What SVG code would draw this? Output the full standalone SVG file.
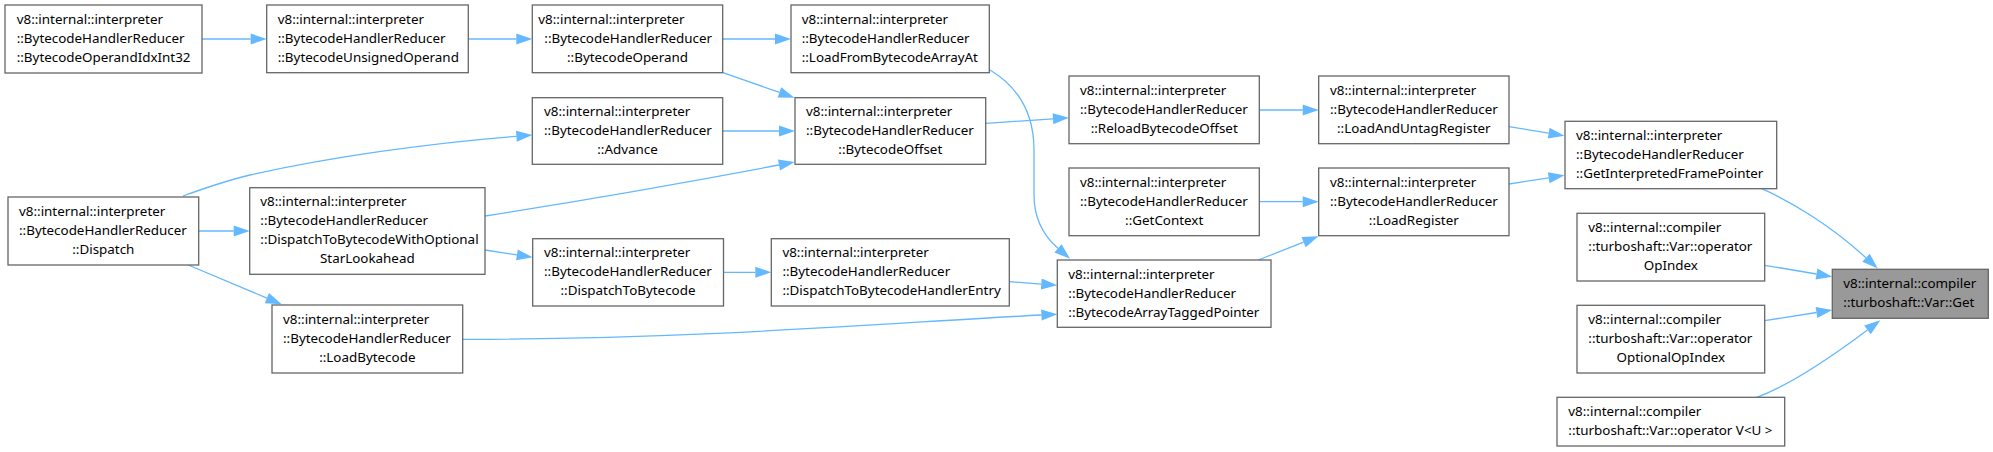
<svg xmlns="http://www.w3.org/2000/svg" width="1993" height="452" viewBox="0 0 1993 452">
<defs>
<style>
.n rect{fill:#fff;stroke:#666;stroke-width:1.3}
.n.hl rect{fill:#999}
.n text{font-family:"Noto Sans","Open Sans","DejaVu Sans",sans-serif;font-size:13.4px;fill:#000}
.m{text-anchor:middle}
.e path{fill:none;stroke:#63b8ff;stroke-width:1.3;marker-end:url(#ah)}
</style>
<marker id="ah" markerUnits="userSpaceOnUse" markerWidth="16" markerHeight="11" refX="0" refY="5.5" orient="auto" viewBox="0 0 16 11" overflow="visible">
<path d="M0,0 L16,5.5 L0,11 z" fill="#63b8ff"/>
</marker>
</defs>
<rect width="1993" height="452" fill="#fff"/>
<g id="edges" class="e">
<path d="M202,39 L250.7,39"/>
<path d="M468.3,39 L516.3,39"/>
<path d="M722.7,39 L775,39"/>
<path d="M723,72.7 L779.4,92.4"/>
<path d="M722.7,131 L779,131"/>
<path d="M183,196 C205,188 225,181 250,175 C330,157 430,143 516.4,136.3"/>
<path d="M485,216 C600,198 700,180 779,165"/>
<path d="M198.7,231 L233.7,231"/>
<path d="M188.3,265 L266.9,298.1"/>
<path d="M485,250 L516.9,254.9"/>
<path d="M723.5,272.3 L755.3,272.3"/>
<path d="M1009.3,281.7 L1041.3,284.1"/>
<path d="M462.7,339.3 C700,339.5 900,322 1041.4,315"/>
<path d="M990,70 C1020,88 1034,115 1034,150 L1034,195 C1034,220 1045,237 1058,248.3"/>
<path d="M986,123.3 L1053,118.8"/>
<path d="M1259.3,110 L1302.7,110"/>
<path d="M1259.3,201.7 L1302.7,201.7"/>
<path d="M1258.3,260 L1303.6,242.2"/>
<path d="M1509,126.7 L1548.7,133.1"/>
<path d="M1509,184 L1548.7,177.8"/>
<path d="M1761.7,188.7 C1790,201 1830,225 1866,257.8"/>
<path d="M1764.7,265.3 L1816.5,274"/>
<path d="M1764.7,320.7 L1816.5,312.5"/>
<path d="M1756.7,397.3 C1790,385 1830,358 1867.5,329.9"/>
</g>
<g id="n1" class="n"><rect x="5" y="5" width="197" height="68"/>
<text x="16.7" y="23.5">v8::internal::interpreter</text><text x="16.7" y="42.5">::BytecodeHandlerReducer</text><text x="16.7" y="61.5">::BytecodeOperandIdxInt32</text></g>
<g id="n2" class="n"><rect x="266.7" y="5" width="201.6" height="67.7"/>
<text x="277.7" y="23.5">v8::internal::interpreter</text><text x="277.7" y="42.5">::BytecodeHandlerReducer</text><text x="277.7" y="61.5">::BytecodeUnsignedOperand</text></g>
<g id="n3" class="n"><rect x="532.3" y="5" width="190.4" height="67.7"/>
<text x="538.3" y="23.5">v8::internal::interpreter</text><text x="544.3" y="42.5">::BytecodeHandlerReducer</text><text class="m" x="627.5" y="61.5">::BytecodeOperand</text></g>
<g id="n4" class="n"><rect x="791" y="5" width="198.3" height="67.7"/>
<text x="801.7" y="23.5">v8::internal::interpreter</text><text x="801.7" y="42.5">::BytecodeHandlerReducer</text><text x="801.7" y="61.5">::LoadFromBytecodeArrayAt</text></g>
<g id="n5" class="n"><rect x="532.3" y="97.7" width="190.4" height="66.6"/>
<text x="544" y="116.2">v8::internal::interpreter</text><text x="544" y="135.2">::BytecodeHandlerReducer</text><text class="m" x="627.5" y="154.2">::Advance</text></g>
<g id="n6" class="n"><rect x="795" y="97.7" width="190.7" height="66.6"/>
<text x="806" y="116.2">v8::internal::interpreter</text><text x="806" y="135.2">::BytecodeHandlerReducer</text><text class="m" x="890.3" y="154.2">::BytecodeOffset</text></g>
<g id="n7" class="n"><rect x="1069" y="76" width="190.3" height="67.7"/>
<text x="1080" y="94.5">v8::internal::interpreter</text><text x="1080" y="113.5">::BytecodeHandlerReducer</text><text class="m" x="1164.2" y="132.5">::ReloadBytecodeOffset</text></g>
<g id="n8" class="n"><rect x="1318.7" y="76" width="190.3" height="67.7"/>
<text x="1330" y="94.5">v8::internal::interpreter</text><text x="1330" y="113.5">::BytecodeHandlerReducer</text><text class="m" x="1413.8" y="132.5">::LoadAndUntagRegister</text></g>
<g id="n9" class="n"><rect x="1069" y="168" width="190.3" height="67.7"/>
<text x="1080" y="186.5">v8::internal::interpreter</text><text x="1080" y="205.5">::BytecodeHandlerReducer</text><text class="m" x="1164.2" y="224.5">::GetContext</text></g>
<g id="n10" class="n"><rect x="1318.7" y="168" width="190.3" height="67.7"/>
<text x="1330" y="186.5">v8::internal::interpreter</text><text x="1330" y="205.5">::BytecodeHandlerReducer</text><text class="m" x="1413.8" y="224.5">::LoadRegister</text></g>
<g id="n11" class="n"><rect x="1565" y="121.3" width="211.7" height="67.4"/>
<text x="1576" y="139.8">v8::internal::interpreter</text><text x="1576" y="158.8">::BytecodeHandlerReducer</text><text x="1576" y="177.8">::GetInterpretedFramePointer</text></g>
<g id="n12" class="n"><rect x="1577" y="213.3" width="187.7" height="67.7"/>
<text x="1588.3" y="231.8">v8::internal::compiler</text><text x="1588.3" y="250.8">::turboshaft::Var::operator</text><text class="m" x="1670.8" y="269.8">OpIndex</text></g>
<g id="n13" class="n hl"><rect x="1832.3" y="269.3" width="156" height="49"/>
<text x="1843.3" y="287.8">v8::internal::compiler</text><text x="1843.3" y="306.8">::turboshaft::Var::Get</text></g>
<g id="n14" class="n"><rect x="1577" y="305.3" width="187.7" height="67.7"/>
<text x="1588.3" y="323.8">v8::internal::compiler</text><text x="1588.3" y="342.8">::turboshaft::Var::operator</text><text class="m" x="1670.8" y="361.8">OptionalOpIndex</text></g>
<g id="n15" class="n"><rect x="1557" y="397.3" width="227.7" height="48.7"/>
<text x="1568.3" y="415.8">v8::internal::compiler</text><text x="1568.3" y="434.8">::turboshaft::Var::operator V&lt;U &gt;</text></g>
<g id="n16" class="n"><rect x="8" y="197" width="190.7" height="68"/>
<text x="19" y="215.5">v8::internal::interpreter</text><text x="19" y="234.5">::BytecodeHandlerReducer</text><text class="m" x="103.3" y="253.5">::Dispatch</text></g>
<g id="n17" class="n"><rect x="249.7" y="187.7" width="235.3" height="86.6"/>
<text x="260.3" y="206.2">v8::internal::interpreter</text><text x="260.3" y="225.2">::BytecodeHandlerReducer</text><text x="260.3" y="244.2">::DispatchToBytecodeWithOptional</text><text class="m" x="367.3" y="263.2">StarLookahead</text></g>
<g id="n18" class="n"><rect x="272" y="305" width="190.7" height="68"/>
<text x="283" y="323.5">v8::internal::interpreter</text><text x="283" y="342.5">::BytecodeHandlerReducer</text><text class="m" x="367.3" y="361.5">::LoadBytecode</text></g>
<g id="n19" class="n"><rect x="532.7" y="238.7" width="190.8" height="67.3"/>
<text x="544" y="257.2">v8::internal::interpreter</text><text x="544" y="276.2">::BytecodeHandlerReducer</text><text class="m" x="628" y="295.2">::DispatchToBytecode</text></g>
<g id="n20" class="n"><rect x="771.3" y="238.7" width="238" height="67.3"/>
<text x="782.4" y="257.2">v8::internal::interpreter</text><text x="782.4" y="276.2">::BytecodeHandlerReducer</text><text x="782.4" y="295.2">::DispatchToBytecodeHandlerEntry</text></g>
<g id="n21" class="n"><rect x="1057.3" y="260" width="213.7" height="67.3"/>
<text x="1068.3" y="278.5">v8::internal::interpreter</text><text x="1068.3" y="297.5">::BytecodeHandlerReducer</text><text x="1068.3" y="316.5">::BytecodeArrayTaggedPointer</text></g>
</svg>
